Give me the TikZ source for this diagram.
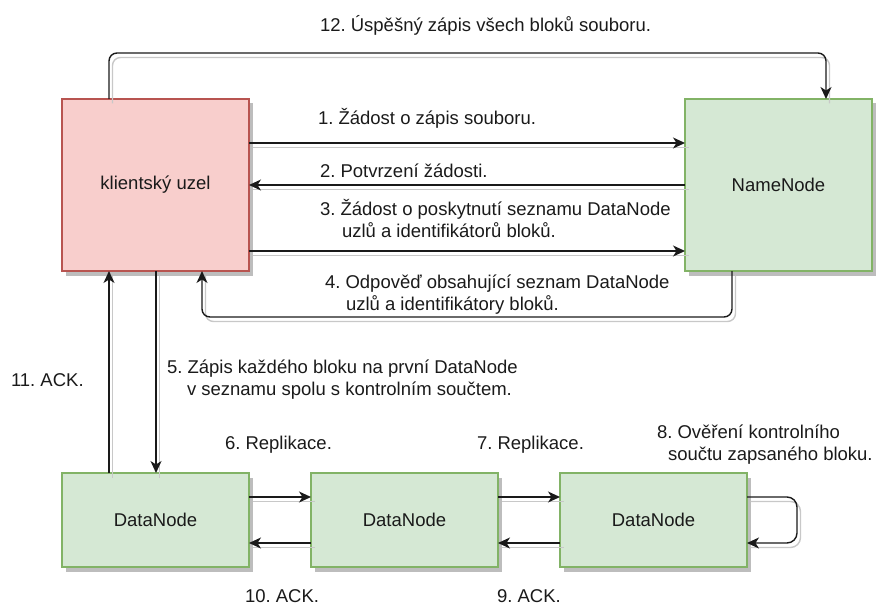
\documentclass[tikz,border=0pt]{standalone}
\usepackage{fontspec}
\setmainfont{Liberation Sans}
\usetikzlibrary{arrows.meta,shadows}
\definecolor{clientfill}{HTML}{F8CECC}
\definecolor{clientline}{HTML}{B85450}
\definecolor{nodefill}{HTML}{D5E8D4}
\definecolor{nodeline}{HTML}{82B366}
\definecolor{inkc}{HTML}{1A1A1A}
\definecolor{edgeshade}{HTML}{C8C8C8}
\definecolor{boxshade}{HTML}{BDBDBD}
\frenchspacing
% two-line label: first line's baseline is the anchor, second line indented
\newcommand\lbltwo[3]{\begin{tabular}[t]{@{}l@{}}#2\\\hspace*{#1}#3\end{tabular}}
\begin{document}
\begin{tikzpicture}[x=1pt,y=1pt,
  every node/.style={font=\fontsize{18.5}{22}\selectfont, text=inkc},
  box/.style={rectangle, line width=1.4pt, outer sep=0pt, inner sep=0pt,
    minimum width=187pt,
    drop shadow={shadow xshift=3.5pt, shadow yshift=-4.5pt, fill=boxshade, opacity=1, draw=none}},
  clientbox/.style={box, fill=clientfill, draw=clientline, minimum height=172pt},
  namebox/.style={box, fill=nodefill, draw=nodeline, minimum height=172pt},
  databox/.style={box, fill=nodefill, draw=nodeline, minimum height=94pt},
  edge/.style={draw=inkc, line width=1.4pt, rounded corners=8pt,
    -{Stealth[length=12pt,width=11pt,inset=3.5pt]},
    preaction={draw=edgeshade, line width=1.4pt, -,
      transform canvas={shift={(3.5pt,-4.5pt)}}}},
  lbl/.style={anchor=base west, inner sep=0pt, outer sep=0pt}]
\useasboundingbox (0,0) rectangle (885,606);

% boxes
\node[clientbox] (cl) at (155.5,421) {klientský uzel};
\node[namebox]   (nn) at (778.5,421) {NameNode};
\node[databox]   (d1) at (155.5,86) {DataNode};
\node[databox]   (d2) at (404.5,86) {DataNode};
\node[databox]   (d3) at (653.5,86) {DataNode};

% client <-> NameNode
\draw[edge] ([xshift=-46.5pt]cl.north) -- ++(0,46) -| ([xshift=47.5pt]nn.north);
\draw[edge] ([yshift=42pt]cl.east) -- ([yshift=42pt]nn.west);
\draw[edge] (nn.west) -- (cl.east);
\draw[edge] ([yshift=-66pt]cl.east) -- ([yshift=-66pt]nn.west);
\draw[edge] ([xshift=-46.5pt]nn.south) -- ++(0,-46) -| ([xshift=46.5pt]cl.south);

% client <-> first DataNode
\draw[edge] ([xshift=0.5pt]cl.south) -- ([xshift=0.5pt]d1.north);
\draw[edge] ([xshift=-46.5pt]d1.north) -- ([xshift=-46.5pt]cl.south);

% replication pipeline
\draw[edge] ([yshift=23pt]d1.east) -- ([yshift=23pt]d2.west);
\draw[edge] ([yshift=-23pt]d2.west) -- ([yshift=-23pt]d1.east);
\draw[edge] ([yshift=23pt]d2.east) -- ([yshift=23pt]d3.west);
\draw[edge] ([yshift=-23pt]d3.west) -- ([yshift=-23pt]d2.east);
\draw[edge, rounded corners=10pt] ([yshift=23pt]d3.east) -- ++(50,0) |- ([yshift=-23pt]d3.east);

% labels
\node[lbl] (l12) at (320,574) {12. Úspěšný zápis všech bloků souboru.};
\node[lbl] (l1)  at (318,481) {1. Žádost o zápis souboru.};
\node[lbl] (l2)  at (320,428) {2. Potvrzení žádosti.};
\node[lbl] (l3)  at (320,391) {\lbltwo{22pt}{3. Žádost o poskytnutí seznamu DataNode}{uzlů a identifikátorů bloků.}};
\node[lbl] (l4)  at (325,318) {\lbltwo{21pt}{4. Odpověď obsahující seznam DataNode}{uzlů a identifikátory bloků.}};
\node[lbl] (l5)  at (167,233) {\lbltwo{20pt}{5. Zápis každého bloku na první DataNode}{v seznamu spolu s kontrolním součtem.}};
\node[lbl] (l11) at (11,220)  {11. ACK.};
\node[lbl] (l6)  at (225,157) {6. Replikace.};
\node[lbl] (l7)  at (477,157) {7. Replikace.};
\node[lbl] (l8)  at (657,168) {\lbltwo{11pt}{8. Ověření kontrolního}{součtu zapsaného bloku.}};
\node[lbl] (l10) at (245,3.5) {10. ACK.};
\node[lbl] (l9)  at (497,3.5) {9. ACK.};
\end{tikzpicture}
\end{document}
